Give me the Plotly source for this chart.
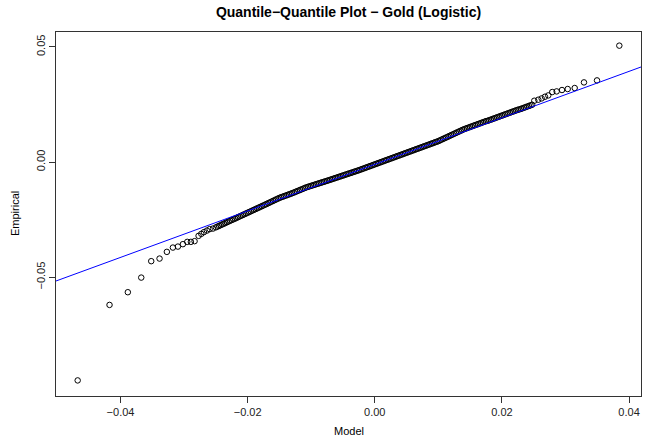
import plotly.graph_objects as go

# ---------------- data ----------------
TITLE = "Quantile\u2212Quantile Plot \u2212 Gold (Logistic)"
X_LABEL = "Model"
Y_LABEL = "Empirical"

# lower tail (model quantiles, empirical quantiles)
lower_model = [-0.04674, -0.04173, -0.03885, -0.03674, -0.03517, -0.03386, -0.03271,
               -0.03176, -0.03097, -0.03019, -0.02950, -0.02893, -0.02835, -0.02772,
               -0.02729, -0.02688, -0.02641, -0.02598, -0.02546]
lower_emp = [-0.09483, -0.06204, -0.05652, -0.05017, -0.04304, -0.04191, -0.03900,
             -0.03713, -0.03670, -0.03565, -0.03465, -0.03465, -0.03435, -0.03204,
             -0.03117, -0.03043, -0.02974, -0.02913, -0.02887]

# dense central body
body_model = [
    -0.02500, -0.02475, -0.02450, -0.02425, -0.02400, -0.02375, -0.02350, -0.02325,
    -0.02300, -0.02275, -0.02250, -0.02225, -0.02200, -0.02175, -0.02150, -0.02125,
    -0.02100, -0.02075, -0.02050, -0.02025, -0.02000, -0.01975, -0.01950, -0.01925,
    -0.01900, -0.01875, -0.01850, -0.01825, -0.01800, -0.01775, -0.01750, -0.01725,
    -0.01700, -0.01675, -0.01650, -0.01625, -0.01600, -0.01575, -0.01550, -0.01525,
    -0.01500, -0.01475, -0.01450, -0.01425, -0.01400, -0.01375, -0.01350, -0.01325,
    -0.01300, -0.01275, -0.01250, -0.01225, -0.01200, -0.01175, -0.01150, -0.01125,
    -0.01100, -0.01075, -0.01050, -0.01025, -0.01000, -0.00975, -0.00950, -0.00925,
    -0.00900, -0.00875, -0.00850, -0.00825, -0.00800, -0.00775, -0.00750, -0.00725,
    -0.00700, -0.00675, -0.00650, -0.00625, -0.00600, -0.00575, -0.00550, -0.00525,
    -0.00500, -0.00475, -0.00450, -0.00425, -0.00400, -0.00375, -0.00350, -0.00325,
    -0.00300, -0.00275, -0.00250, -0.00225, -0.00200, -0.00175, -0.00150, -0.00125,
    -0.00100, -0.00075, -0.00050, -0.00025, 0.00000, 0.00025, 0.00050, 0.00075,
    0.00100, 0.00125, 0.00150, 0.00175, 0.00200, 0.00225, 0.00250, 0.00275,
    0.00300, 0.00325, 0.00350, 0.00375, 0.00400, 0.00425, 0.00450, 0.00475,
    0.00500, 0.00525, 0.00550, 0.00575, 0.00600, 0.00625, 0.00650, 0.00675,
    0.00700, 0.00725, 0.00750, 0.00775, 0.00800, 0.00825, 0.00850, 0.00875,
    0.00900, 0.00925, 0.00950, 0.00975, 0.01000, 0.01025, 0.01050, 0.01075,
    0.01100, 0.01125, 0.01150, 0.01175, 0.01200, 0.01225, 0.01250, 0.01275,
    0.01300, 0.01325, 0.01350, 0.01375, 0.01400, 0.01425, 0.01450, 0.01475,
    0.01500, 0.01525, 0.01550, 0.01575, 0.01600, 0.01625, 0.01650, 0.01675,
    0.01700, 0.01725, 0.01750, 0.01775, 0.01800, 0.01825, 0.01850, 0.01875,
    0.01900, 0.01925, 0.01950, 0.01975, 0.02000, 0.02025, 0.02050, 0.02075,
    0.02100, 0.02125, 0.02150, 0.02175, 0.02200, 0.02225, 0.02250, 0.02275,
    0.02300, 0.02325, 0.02350, 0.02375, 0.02400, 0.02425, 0.02450, 0.02475,
]
body_emp = [
    -0.02835, -0.02803, -0.02772, -0.02739, -0.02707, -0.02676, -0.02644, -0.02611,
    -0.02580, -0.02548, -0.02516, -0.02487, -0.02455, -0.02424, -0.02392, -0.02359,
    -0.02328, -0.02296, -0.02264, -0.02232, -0.02200, -0.02168, -0.02137, -0.02104,
    -0.02072, -0.02041, -0.02009, -0.01976, -0.01945, -0.01913, -0.01881, -0.01849,
    -0.01817, -0.01784, -0.01752, -0.01718, -0.01686, -0.01653, -0.01620, -0.01587,
    -0.01555, -0.01530, -0.01505, -0.01479, -0.01454, -0.01429, -0.01404, -0.01378,
    -0.01353, -0.01325, -0.01296, -0.01267, -0.01239, -0.01210, -0.01182, -0.01153,
    -0.01124, -0.01096, -0.01074, -0.01052, -0.01030, -0.01008, -0.00987, -0.00964,
    -0.00942, -0.00921, -0.00899, -0.00876, -0.00855, -0.00833, -0.00811, -0.00789,
    -0.00767, -0.00744, -0.00721, -0.00698, -0.00675, -0.00652, -0.00629, -0.00606,
    -0.00583, -0.00560, -0.00537, -0.00513, -0.00491, -0.00468, -0.00445, -0.00421,
    -0.00399, -0.00376, -0.00353, -0.00327, -0.00302, -0.00277, -0.00252, -0.00226,
    -0.00201, -0.00176, -0.00151, -0.00125, -0.00100, -0.00075, -0.00050, -0.00024,
    0.00001, 0.00026, 0.00052, 0.00077, 0.00102, 0.00127, 0.00153, 0.00178,
    0.00203, 0.00228, 0.00254, 0.00279, 0.00304, 0.00329, 0.00355, 0.00380,
    0.00405, 0.00430, 0.00456, 0.00481, 0.00506, 0.00531, 0.00557, 0.00582,
    0.00607, 0.00632, 0.00658, 0.00683, 0.00708, 0.00733, 0.00759, 0.00784,
    0.00809, 0.00834, 0.00860, 0.00885, 0.00910, 0.00942, 0.00975, 0.01007,
    0.01039, 0.01070, 0.01103, 0.01135, 0.01167, 0.01199, 0.01232, 0.01264,
    0.01296, 0.01328, 0.01360, 0.01392, 0.01424, 0.01449, 0.01475, 0.01500,
    0.01525, 0.01550, 0.01576, 0.01601, 0.01626, 0.01651, 0.01677, 0.01702,
    0.01727, 0.01752, 0.01778, 0.01793, 0.01818, 0.01843, 0.01869, 0.01894,
    0.01919, 0.01944, 0.01970, 0.01995, 0.02020, 0.02045, 0.02071, 0.02096,
    0.02121, 0.02146, 0.02172, 0.02197, 0.02222, 0.02247, 0.02273, 0.02288,
    0.02313, 0.02338, 0.02364, 0.02389, 0.02414, 0.02439, 0.02465, 0.02490,
]

# upper tail
upper_model = [0.02509, 0.02572, 0.02625, 0.02677, 0.02729, 0.02792, 0.02861,
               0.02945, 0.03035, 0.03145, 0.03291, 0.03496, 0.03847]
upper_emp = [0.02665, 0.02709, 0.02765, 0.02839, 0.02896, 0.03043, 0.03070,
             0.03130, 0.03174, 0.03217, 0.03461, 0.03548, 0.05057]

# reference line (intercept, slope)
LINE_INTERCEPT = -0.0010
LINE_SLOPE = 1.01

X_TICKS = [-0.04, -0.02, 0.00, 0.02, 0.04]
X_TICK_LABELS = ["\u22120.04", "\u22120.02", "0.00", "0.02", "0.04"]
Y_TICKS = [-0.05, 0.00, 0.05]
Y_TICK_LABELS = ["\u22120.05", "0.00", "0.05"]

X_RANGE = [-0.05015, 0.04188]
Y_RANGE = [-0.1016, 0.0565]

# ---------------- figure ----------------
model = lower_model + body_model + upper_model
emp = lower_emp + body_emp + upper_emp

FONT = "Liberation Sans, Arial, Helvetica, sans-serif"
W, H = 645, 439
ML, MR, MT, MB = 56, 4, 32, 43

fig = go.Figure()
fig.add_trace(go.Scatter(
    x=model, y=emp, mode="markers",
    marker=dict(symbol="circle-open", size=5.5, color="black",
                line=dict(color="black", width=1)),
    showlegend=False, hoverinfo="skip",
))
line_x = [X_RANGE[0] - 0.01, X_RANGE[1] + 0.01]
line_y = [LINE_INTERCEPT + LINE_SLOPE * v for v in line_x]
fig.add_trace(go.Scatter(
    x=line_x, y=line_y, mode="lines",
    line=dict(color="#0000ff", width=1),
    showlegend=False, hoverinfo="skip",
))

fig.update_layout(
    width=W, height=H,
    margin=dict(l=ML, r=MR, t=MT, b=MB, autoexpand=False),
    paper_bgcolor="white", plot_bgcolor="white",
    font=dict(family=FONT, size=11, color="black"),
    title=dict(text="<b>" + TITLE + "</b>", x=(ML + W - MR) / 2 / W, xanchor="center",
               y=1 - 12.5 / H, yanchor="middle",
               font=dict(family=FONT, size=14, color="black")),
    annotations=[
        dict(text=X_LABEL, xref="paper", yref="paper", x=0.5, y=0,
             yshift=-35, xanchor="center", yanchor="middle", showarrow=False,
             font=dict(family=FONT, size=11, color="black")),
        dict(text=Y_LABEL, xref="paper", yref="paper", x=0, y=0.5,
             xshift=-41, xanchor="center", yanchor="middle", showarrow=False,
             textangle=-90, font=dict(family=FONT, size=11, color="black")),
    ],
)
fig.update_xaxes(
    range=X_RANGE, tickvals=X_TICKS, ticktext=X_TICK_LABELS,
    showgrid=False, zeroline=False, automargin=False,
    showline=True, linecolor="#333333", linewidth=1, mirror=True,
    ticks="outside", ticklen=6, tickcolor="#333333", tickwidth=1,
    tickfont=dict(size=11, color="#222222"),
)
fig.update_yaxes(
    range=Y_RANGE, tickvals=Y_TICKS, ticktext=Y_TICK_LABELS,
    showgrid=False, zeroline=False, automargin=False,
    showline=True, linecolor="#333333", linewidth=1, mirror=True,
    ticks="outside", ticklen=6, tickcolor="#333333", tickwidth=1,
    tickangle=-90,
    tickfont=dict(size=11, color="#222222"),
)

fig.write_html(
    "out.html",
    config={"displayModeBar": False},
    post_script="document.body.style.margin='0';document.body.style.padding='0';",
)
